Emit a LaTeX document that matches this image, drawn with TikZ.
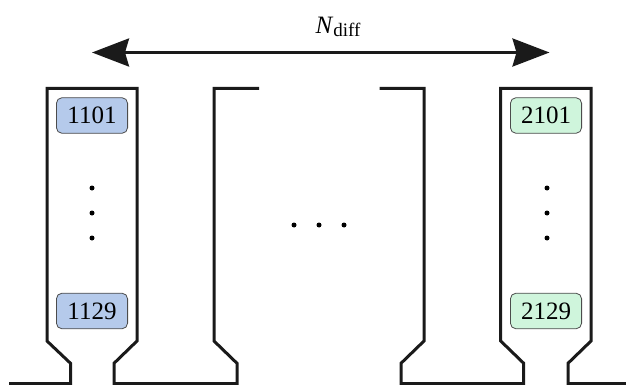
\documentclass[tikz,border=0pt]{standalone}
\usepackage{fontspec}
\setmainfont{Liberation Serif}
\usetikzlibrary{arrows.meta}
\definecolor{bluecell}{HTML}{B5CAEB}
\definecolor{greencell}{HTML}{CFF5DC}
\definecolor{wallcol}{HTML}{1A1A1A}
\tikzset{
    wall/.style={draw=wallcol,line width=1.5pt,miter limit=10},
    cellbox/.style={draw=black!70,line width=0.4pt,rounded corners=2.8pt,minimum width=35.6pt,minimum height=17.8pt,inner sep=0pt,font=\fontsize{12.5}{14}\selectfont},
    blob/.style={circle,fill=black,inner sep=0pt,minimum size=2.5pt},
}

\begin{document}
\begin{tikzpicture}[x=0.5pt,y=-0.5pt]
    \useasboundingbox (0,0) rectangle (626,385);

    % walls
    \draw[wall] (9,383.5) -- (70.5,383.5) -- (70.5,363.3) -- (47,341) -- (47,88.5) -- (137,88.5) -- (137,341) -- (114,363.3) -- (114,383.5) -- (237,383.5) -- (237,363.3) -- (214,341) -- (214,88.5) -- (259,88.5);
    \draw[wall] (379.5,88.5) -- (424,88.5) -- (424,341) -- (401,363.3) -- (401,383.5) -- (523.7,383.5) -- (523.7,363.3) -- (500.7,341) -- (500.7,88.5) -- (591,88.5) -- (591,341) -- (568,363.3) -- (568,383.5) -- (626,383.5);

    % arrow
    \coordinate (arrowL) at (92,52.5);
    \coordinate (arrowR) at (549.5,52.5);
    \draw[draw=wallcol,line width=1.5pt,{Stealth[length=18.5pt,width=14pt,inset=2pt]}-{Stealth[length=18.5pt,width=14pt,inset=2pt]}] (arrowL) -- (arrowR);
    \node[inner sep=0pt] (ndiff) at (338,27) {\fontsize{12.5}{14}\selectfont\textit{N}\raisebox{-1.6pt}{\fontsize{9.5}{11}\selectfont diff}};

    % left column
    \node[cellbox,fill=bluecell] (a1) at (92,115.5) {1101};
    \node[cellbox,fill=bluecell] (a2) at (92,311) {1129};
    \node[blob] (adot1) at (92,188) {};
    \node[blob] (adot2) at (92,213) {};
    \node[blob] (adot3) at (92,238) {};

    % right column
    \node[cellbox,fill=greencell] (b1) at (546,115.5) {2101};
    \node[cellbox,fill=greencell] (b2) at (546,311) {2129};
    \node[blob] (bdot1) at (547,188) {};
    \node[blob] (bdot2) at (547,213) {};
    \node[blob] (bdot3) at (547,238) {};

    % middle dots
    \node[blob] (mdot1) at (294,225) {};
    \node[blob] (mdot2) at (319,225) {};
    \node[blob] (mdot3) at (344,225) {};
\end{tikzpicture}
\end{document}
